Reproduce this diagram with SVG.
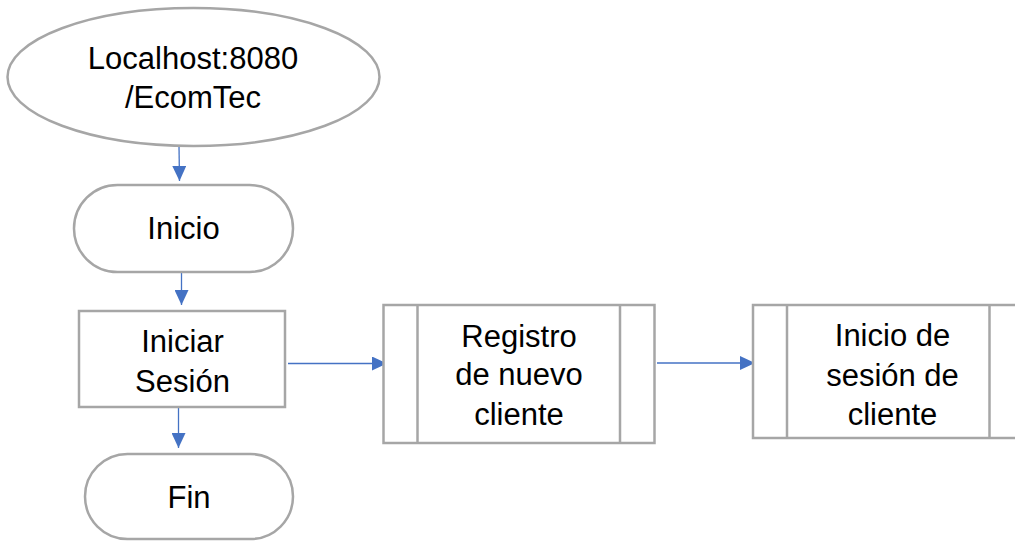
<svg xmlns="http://www.w3.org/2000/svg" width="1015" height="541" viewBox="0 0 1015 541">
<style>
.s{fill:#fff;stroke:#A6A6A6;stroke-width:2.5}
.l{fill:none;stroke:#A6A6A6;stroke-width:2.5}
.t{font-family:"Liberation Sans",Arial,sans-serif;font-size:31px;fill:#000;text-anchor:middle}
.c{stroke:#4472C4;stroke-width:1.3;fill:none;marker-end:url(#ah)}
</style>
<defs>
<marker id="ah" markerUnits="userSpaceOnUse" markerWidth="16" markerHeight="14" refX="15" refY="7" orient="auto">
<path d="M0,0 L15,7 L0,14 Z" fill="#4472C4"/>
</marker>
</defs>
<rect width="1015" height="541" fill="#fff"/>
<g id="connectors">
<line class="c" x1="179" y1="146" x2="179.5" y2="181"/>
<line class="c" x1="181.5" y1="268" x2="181.5" y2="305"/>
<line class="c" x1="178.5" y1="408" x2="178.5" y2="448"/>
<line class="c" x1="288" y1="363.5" x2="387" y2="363.5"/>
<line class="c" x1="657" y1="363" x2="755" y2="363"/>
</g>
<g id="n1">
<ellipse class="s" cx="193.5" cy="77" rx="186" ry="69"/>
<text class="t" x="193" y="69">Localhost:8080</text>
<text class="t" x="193" y="108">/EcomTec</text>
</g>
<g id="n2">
<rect class="s" x="74" y="185" width="219" height="87" rx="43.5"/>
<text class="t" x="183.5" y="239">Inicio</text>
</g>
<g id="n3">
<rect class="s" x="79" y="311" width="206" height="96"/>
<text class="t" x="182.5" y="352">Iniciar</text>
<text class="t" x="182.5" y="392">Sesión</text>
</g>
<g id="n4">
<rect class="s" x="85" y="454" width="208" height="85" rx="42.5"/>
<text class="t" x="189" y="508">Fin</text>
</g>
<g id="n5">
<rect class="s" x="383.5" y="305" width="271" height="138"/>
<line class="l" x1="417.5" y1="305" x2="417.5" y2="443"/>
<line class="l" x1="620" y1="305" x2="620" y2="443"/>
<text class="t" x="519" y="347">Registro</text>
<text class="t" x="519" y="385">de nuevo</text>
<text class="t" x="519" y="425">cliente</text>
</g>
<g id="n6">
<rect class="s" x="753" y="305" width="271" height="133"/>
<line class="l" x1="787" y1="305" x2="787" y2="438"/>
<line class="l" x1="989.5" y1="305" x2="989.5" y2="438"/>
<text class="t" x="892.5" y="346">Inicio de</text>
<text class="t" x="892.5" y="386">sesión de</text>
<text class="t" x="892.5" y="425">cliente</text>
</g>
</svg>
